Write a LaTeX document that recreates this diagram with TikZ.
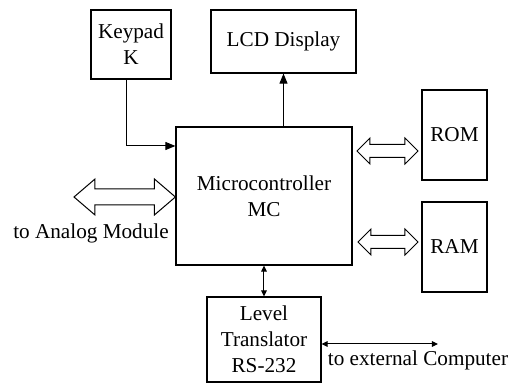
\documentclass[tikz,border=0pt]{standalone}
\usepackage{fontspec}
\setmainfont{Liberation Serif}
\usetikzlibrary{positioning,calc,arrows.meta}

% hollow two-headed bus arrow between two coordinates
% #1 left tip, #2 right tip, #3 head half height, #4 shaft half width, #5 head length
\newcommand\busarrow[5]{%
  \draw[bus] (#1) -- ($(#1)+(#5,-#3)$) -- ($(#1)+(#5,-#4)$) -- ($(#2)+(-#5,-#4)$)
    -- ($(#2)+(-#5,-#3)$) -- (#2) -- ($(#2)+(-#5,#3)$) -- ($(#2)+(-#5,#4)$)
    -- ($(#1)+(#5,#4)$) -- ($(#1)+(#5,#3)$) -- cycle;}

\begin{document}
\begin{tikzpicture}[x=0.5pt,y=-0.5pt,
    font=\fontsize{10.6}{13}\selectfont,
    block/.style={draw, line width=0.6pt, align=center, inner sep=0pt},
    bus/.style={draw, line width=0.5pt, line join=miter},
    sig/.style={line width=0.5pt, -{Triangle[length=5pt,width=4pt]}},
    sigs/.style={line width=0.5pt, {Triangle[length=3pt,width=2.8pt]}-{Triangle[length=3pt,width=2.8pt]}}]
  \useasboundingbox (0,0) rectangle (516,384);

  \node[block, minimum width=40pt, minimum height=34.5pt] (kp) at (131,44.5) {Keypad\\K};
  \node[block, minimum width=72.5pt, minimum height=31.5pt] (lcd) at (283.5,41.5) {LCD Display};
  \node[block, minimum width=88pt, minimum height=69pt] (mc) at (264,196) {Microcontroller\\MC};
  \node[block, minimum width=32.5pt, minimum height=45pt] (rom) at (454.5,135) {ROM};
  \node[block, minimum width=32.5pt, minimum height=45pt] (ram) at (454.5,247) {RAM};
  \node[block, minimum width=57pt, minimum height=42.5pt] (lt) at (264,339.5) {Level\\Translator\\RS-232};

  \node (analog) at (91,233) {to Analog Module};
  \node (ext) at (418,360) {to external Computer};

  % signal lines
  \draw[sig] ([xshift=-2pt]kp.south) |- ([yshift=25pt]mc.west);
  \draw[sig] (mc.north -| lcd) -- (lcd.south);
  \draw[sigs] (mc.south) -- (lt.north);
  \coordinate (pc) at (438,344);
  \draw[sigs] (lt.east |- pc) -- (pc);

  % buses
  \coordinate (romA) at (357,151);
  \coordinate (romB) at (418,151);
  \busarrow{romA}{romB}{13}{6.5}{13}
  \coordinate (ramA) at (358,242);
  \coordinate (ramB) at (418,242);
  \busarrow{ramA}{ramB}{13}{6.5}{13}
  \coordinate (anA) at (74,197);
  \coordinate (anB) at (mc.west |- anA);
  \busarrow{anA}{anB}{18}{8}{21}
\end{tikzpicture}
\end{document}
